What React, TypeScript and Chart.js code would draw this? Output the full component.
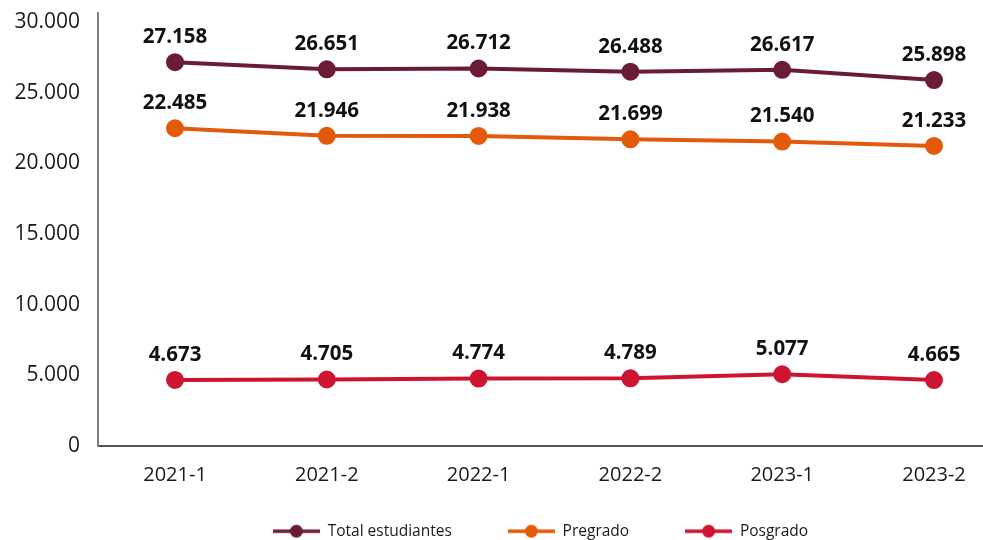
import React, { useEffect, useRef } from "react";
import { Chart, registerables } from "chart.js";
Chart.register(...registerables);

const categories = ["2021-1", "2021-2", "2022-1", "2022-2", "2023-1", "2023-2"];
const totalEstudiantes = [27158, 26651, 26712, 26488, 26617, 25898];
const pregrado = [22485, 21946, 21938, 21699, 21540, 21233];
const posgrado = [4673, 4705, 4774, 4789, 5077, 4665];
const yTickValues = [0, 5000, 10000, 15000, 20000, 25000, 30000];
const seriesNames = ["Total estudiantes", "Pregrado", "Posgrado"];
const seriesColors = ["#6b1c35", "#e35a0b", "#cd1531"];

const FONT = '"Open Sans", "Noto Sans", sans-serif';

const CANVAS_W = 983;
const CANVAS_H = 549;
const LEGEND_FONT = 15.5;
const LEGEND_PAD = 56;
const PLOT_BOTTOM = 446;

const fmt = (v: number) =>
  Math.round(v).toString().replace(/\B(?=(\d{3})+(?!\d))/g, ".");

function legendIcon(color: string): HTMLCanvasElement {
  const c = document.createElement("canvas");
  c.width = 47;
  c.height = 16;
  const ctx = c.getContext("2d")!;
  ctx.strokeStyle = color;
  ctx.lineWidth = 3.5;
  ctx.beginPath();
  ctx.moveTo(0, 8);
  ctx.lineTo(47, 8);
  ctx.stroke();
  ctx.fillStyle = color;
  ctx.beginPath();
  ctx.arc(23.5, 8, 6.5, 0, Math.PI * 2);
  ctx.fill();
  return c;
}

const pointLabels = {
  id: "pointLabels",
  afterDatasetsDraw(chart: any) {
    const ctx = chart.ctx;
    ctx.save();
    ctx.font = `bold 20.5px ${FONT}`;
    ctx.fillStyle = "#111111";
    ctx.textAlign = "center";
    ctx.textBaseline = "middle";
    chart.data.datasets.forEach((ds: any, i: number) => {
      const meta = chart.getDatasetMeta(i);
      meta.data.forEach((pt: any, j: number) => {
        ctx.fillText(fmt(ds.data[j].y), pt.x, pt.y - 25);
      });
    });
    ctx.restore();
  },
};

export default function App() {
  const ref = useRef<HTMLCanvasElement | null>(null);
  useEffect(() => {
    if (!ref.current) return;
    const seriesValues = [totalEstudiantes, pregrado, posgrado];
    const icons = seriesColors.map(legendIcon);
    const legendHeight = LEGEND_FONT + LEGEND_PAD + 10;
    const xAxisHeight = CANVAS_H - legendHeight - PLOT_BOTTOM;
    const chart = new Chart(ref.current, {
      type: "line",
      data: {
        datasets: seriesNames.map((name, i) => ({
          label: name,
          data: seriesValues[i].map((v, j) => ({ x: j, y: v })),
          borderColor: seriesColors[i],
          backgroundColor: seriesColors[i],
          pointBackgroundColor: seriesColors[i],
          pointBorderColor: seriesColors[i],
          borderWidth: 4,
          pointRadius: 7,
          pointHoverRadius: 7,
          tension: 0,
          clip: false as any,
        })),
      },
      options: {
        animation: false,
        responsive: false,
        devicePixelRatio: 1,
        layout: { autoPadding: false, padding: { top: 13, right: 0, left: 0, bottom: 0 } },
        scales: {
          x: {
            type: "linear",
            min: -0.5073,
            max: 5.3228,
            grid: { display: false, drawTicks: false },
            border: { display: true, color: "#555555", width: 2 },
            afterBuildTicks: (scale: any) => {
              scale.ticks = categories.map((_, i) => ({ value: i }));
            },
            afterFit: (scale: any) => {
              scale.height = xAxisHeight;
              scale.paddingLeft = 0;
              scale.paddingRight = 0;
              scale.paddingTop = 0;
              scale.paddingBottom = 0;
              scale._computeLabelArea = () => ({
                top: scale.top,
                left: 0,
                bottom: CANVAS_H,
                right: CANVAS_W,
              });
            },
            ticks: {
              autoSkip: false,
              maxRotation: 0,
              padding: 17,
              color: "#1a1a1a",
              font: { family: FONT, size: 20 },
              callback: (v: any) => categories[v as number] ?? "",
            },
          },
          y: {
            type: "linear",
            min: 0,
            max: 30640,
            grid: { display: false, drawTicks: false },
            border: { display: true, color: "#808080", width: 2 },
            afterBuildTicks: (scale: any) => {
              scale.ticks = yTickValues.map((v) => ({ value: v }));
            },
            afterFit: (scale: any) => {
              scale.width = 98;
              scale.paddingLeft = 0;
              scale.paddingRight = 0;
              scale.paddingTop = 0;
              scale.paddingBottom = 0;
            },
            ticks: {
              padding: 18,
              color: "#1a1a1a",
              font: { family: FONT, size: 21 },
              callback: (v: any) => fmt(Number(v)),
            },
          },
        },
        plugins: {
          tooltip: { enabled: false },
          legend: {
            position: "bottom",
            fullSize: false,
            labels: {
              usePointStyle: true,
              pointStyleWidth: 47,
              padding: LEGEND_PAD,
              color: "#1a1a1a",
              font: { family: FONT, size: LEGEND_FONT },
              generateLabels: (ch: any) => {
                const base = (Chart.defaults.plugins.legend.labels as any).generateLabels(ch);
                return base.map((it: any, i: number) => ({
                  ...it,
                  pointStyle: icons[i],
                  lineWidth: 0,
                }));
              },
            },
          },
        },
      },
      plugins: [pointLabels],
    } as any);
    return () => chart.destroy();
  }, []);

  return (
    <div
      style={{
        position: "absolute",
        left: 0,
        top: 0,
        width: CANVAS_W,
        height: 540,
        overflow: "hidden",
        background: "#ffffff",
      }}
    >
      <canvas ref={ref} width={CANVAS_W} height={CANVAS_H} style={{ display: "block" }} />
    </div>
  );
}
